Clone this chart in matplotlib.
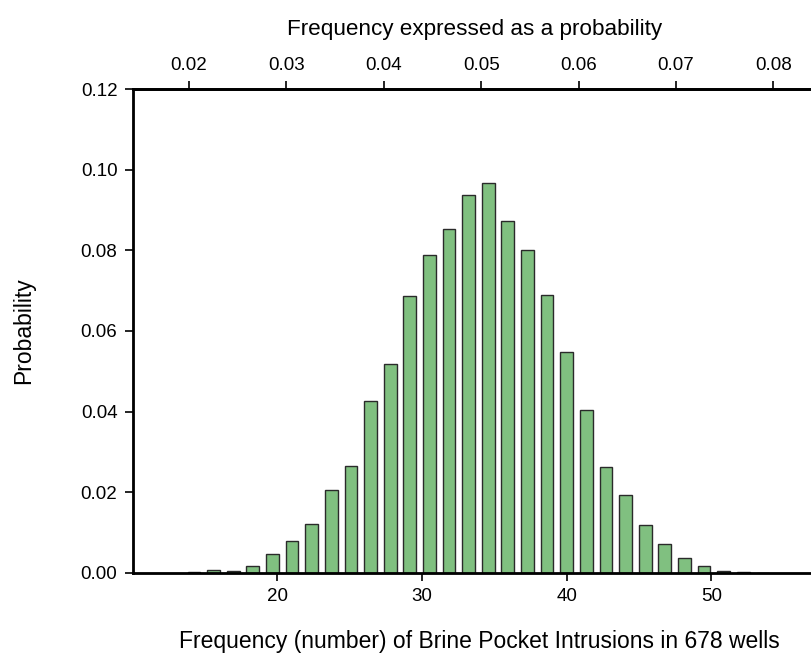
import matplotlib
matplotlib.use("Agg")
import matplotlib.pyplot as plt
import numpy as np

plt.rcParams["font.family"] = ["Liberation Sans", "DejaVu Sans"]

# probability bins (centres) and the probability of each bin
n_wells = 678
bin_centres = [0.021, 0.023, 0.025, 0.027, 0.029, 0.031, 0.033, 0.035,
               0.037, 0.039, 0.041, 0.043, 0.045, 0.047, 0.049, 0.051,
               0.053, 0.055, 0.057, 0.059, 0.061, 0.063, 0.065, 0.067,
               0.069, 0.071, 0.073, 0.075, 0.077, 0.079]
probs = [0.00005, 0.0006, 0.0004, 0.0017, 0.0047, 0.0079, 0.0121, 0.0204,
         0.0265, 0.0426, 0.0518, 0.0686, 0.0789, 0.0853, 0.0937, 0.0968,
         0.0874, 0.0801, 0.0690, 0.0548, 0.0404, 0.0263, 0.0192, 0.0118,
         0.0072, 0.0036, 0.0016, 0.0004, 0.0001, 0.00003]

bottom_ticks = [20, 30, 40, 50]
top_ticks = [0.02, 0.03, 0.04, 0.05, 0.06, 0.07, 0.08]
y_ticks = [0.00, 0.02, 0.04, 0.06, 0.08, 0.10, 0.12]

fig = plt.figure(figsize=(8.12, 6.56), dpi=100)
# axes run past the right edge of the figure, so the right side is cut off
ax = fig.add_axes([0.1634, 0.127, 0.8908, 0.737])

counts = np.array(bin_centres) * n_wells
ax.bar(counts, probs, width=0.88, color="#80c080", edgecolor="#2a2a2a",
       linewidth=1.0, zorder=2)

ax.set_xlim(10, 60)
ax.set_ylim(0, 0.12)
ax.set_xticks(bottom_ticks)
ax.set_yticks(y_ticks)
ax.set_yticklabels(["%.2f" % v for v in y_ticks])
ax.tick_params(axis="both", direction="out", length=6, width=1.2,
               labelsize=13.5, pad=5)
ax.spines["right"].set_visible(False)
for side in ["left", "bottom", "top"]:
    ax.spines[side].set_linewidth(2)
ax.set_xlabel("Frequency (number) of Brine Pocket Intrusions in 678 wells",
              fontsize=16.5, labelpad=18)
ax.xaxis.label.set_x(0.479)
ax.set_ylabel("Probability", fontsize=16.5, labelpad=33)

ax2 = ax.twiny()
ax2.set_xlim(0.01422, 0.08848)
ax2.set_xticks(top_ticks)
ax2.set_xticklabels(["%.2f" % v for v in top_ticks])
ax2.tick_params(axis="x", direction="out", length=6, width=1.2,
                labelsize=13.5, pad=5)
ax2.spines["right"].set_visible(False)
ax2.spines["top"].set_linewidth(2)
ax2.set_xlabel("Frequency expressed as a probability", fontsize=16.2,
               labelpad=16)
ax2.xaxis.label.set_x(0.4726)

fig.savefig("out.png", dpi=100)
